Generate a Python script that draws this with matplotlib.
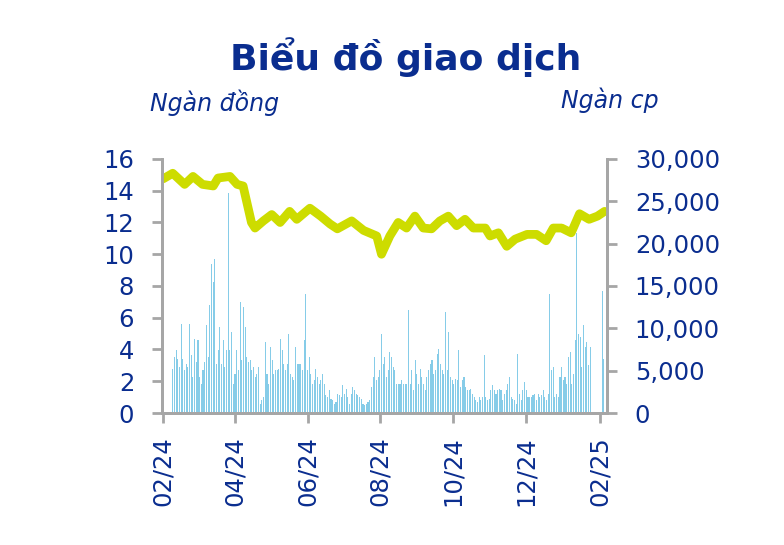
import matplotlib
matplotlib.use('Agg')
import matplotlib.pyplot as plt
import matplotlib.dates as mdates
import matplotlib.ticker as mticker
import numpy as np
import pandas as pd

# price (ngan dong)
price_dates = ['2024-02-01', '2024-02-09', '2024-02-19', '2024-02-26', '2024-03-05',
               '2024-03-14', '2024-03-18', '2024-03-28', '2024-04-03', '2024-04-08',
               '2024-04-15', '2024-04-18', '2024-04-25', '2024-05-02', '2024-05-09',
               '2024-05-17', '2024-05-23', '2024-06-03', '2024-06-12', '2024-06-20',
               '2024-06-26', '2024-07-08', '2024-07-18', '2024-07-29', '2024-08-02',
               '2024-08-09', '2024-08-16', '2024-08-23', '2024-08-30', '2024-09-06',
               '2024-09-13', '2024-09-20', '2024-09-27', '2024-10-04', '2024-10-11',
               '2024-10-18', '2024-10-28', '2024-11-01', '2024-11-08', '2024-11-15',
               '2024-11-22', '2024-12-02', '2024-12-10', '2024-12-18', '2024-12-24',
               '2024-12-31', '2025-01-08', '2025-01-15', '2025-01-23', '2025-01-30',
               '2025-02-05']
price = [14.75, 15.1, 14.4, 14.9, 14.4,
         14.3, 14.8, 14.9, 14.4, 14.3,
         12.0, 11.65, 12.1, 12.5, 12.0,
         12.7, 12.2, 12.9, 12.4, 11.9,
         11.6, 12.1, 11.5, 11.15, 10.0,
         11.15, 12.0, 11.65, 12.4, 11.65,
         11.6, 12.1, 12.4, 11.8, 12.2,
         11.65, 11.65, 11.15, 11.35, 10.5,
         10.95, 11.25, 11.25, 10.85, 11.65,
         11.65, 11.35, 12.55, 12.2, 12.4,
         12.7]

# volume (ngan cp), trading sessions before Tet 2025
vol_start = '2024-02-09'
vol_end = '2025-01-24'
volume = [5240, 6620, 7410, 6420, 5440, 10560, 6420, 5040, 5830, 5440,
          10560, 6820, 4260, 8790, 6030, 8590, 4260, 3470, 5040, 6030,
          10360, 6620, 12730, 17650, 15480, 18240, 5830, 7410, 10170, 5830,
          8590, 5440, 7410, 25930, 7410, 9570, 3470, 4650, 7410, 5040,
          13120, 6230, 12530, 10170, 6620, 6030, 6230, 5040, 5440, 4260, 4650, 5440,
          1100, 1500, 1890,
          8390, 4650, 3470, 7800, 6230, 4650, 5040, 5040, 5240, 8790, 7410, 5830,
          5040, 5830, 9380, 4650, 4260, 3860, 7800, 5830, 5830, 5830, 5040, 8590,
          14110, 5040, 6620, 4650, 3470, 3860, 5240, 4260, 3470, 3860,
          4650, 3470, 2090, 1890, 2680, 1690, 1500, 1100, 1300, 2290, 2090,
          1890, 3270, 2290, 2880, 1890, 1100, 2290, 3070, 2680, 2290, 2090,
          1890, 1690, 1100, 910, 1100, 1300, 1500, 3070, 4260, 6620, 3860,
          4260, 5040, 9380, 5830, 6620, 4260, 5040, 7210, 6620, 5440,
          5040, 3470, 3470, 3470, 3860, 3470, 3470, 3470, 12140, 3470,
          5040, 2680, 6230, 4650, 3470, 5240, 4260, 3470, 2680, 4260,
          5040, 5830, 6230, 4650, 5040, 7010, 7600, 5830, 5040, 4650,
          11940, 5040, 9570, 4260, 3860, 3470, 4060, 3860, 7410, 3070,
          3860, 4260, 3070, 2680, 2680, 2880, 2290, 1890, 1500, 1300,
          1890, 1500, 1890, 6820, 1890, 1500, 1690, 2680, 3270, 2680,
          2290, 2680, 2880, 2680, 1500, 2290, 2680, 3470, 4260, 1890,
          1690, 1500, 1100, 7010, 2290, 1500, 2680, 3660, 2680, 1890,
          1890, 1890, 2090, 2290, 1500, 2290, 1890, 2090, 2680, 1890,
          1500, 2290, 14110, 5040, 5440, 1890, 2290, 1890, 4260, 5440,
          3860, 4260, 3470, 6620, 7210, 3470, 4650, 8590, 21200, 9380,
          8980, 5440, 10360, 7800, 8390, 5630, 7800]
# sessions after Tet 2025
vol2_dates = ['2025-02-03', '2025-02-04']
volume2 = [14400, 6400]

xtick_dates = ['2024-02-01', '2024-04-01', '2024-06-01', '2024-08-01',
               '2024-10-01', '2024-12-01', '2025-02-01']

navy = '#0a2d8f'
grey = '#a6a6a6'
lime = '#cddc00'
bar_c = '#86cce8'

fig = plt.figure(figsize=(7.84, 5.45), dpi=100)
ax = fig.add_axes([0.2066, 0.2422, 0.5676, 0.4661])
ax2 = ax.twinx()

vd = pd.date_range(vol_start, vol_end, periods=len(volume))
ax2.bar(vd, volume, width=0.9, color=bar_c, linewidth=0)
ax2.bar(pd.to_datetime(vol2_dates), volume2, width=0.9, color=bar_c, linewidth=0)

ax.plot(pd.to_datetime(price_dates), price, color=lime, lw=6.3,
        solid_capstyle='round', solid_joinstyle='round')

ax.set_zorder(ax2.get_zorder() + 1)
ax.patch.set_visible(False)

ax.set_ylim(0, 16)
ax2.set_ylim(0, 30000)
ax.set_xlim(pd.Timestamp('2024-01-31'), pd.Timestamp('2025-02-07'))
ax.set_yticks(np.arange(0, 17, 2))
ax2.set_yticks(np.arange(0, 30001, 5000))
ax2.yaxis.set_major_formatter(mticker.FuncFormatter(lambda v, p: '{:,.0f}'.format(v)))
ax.set_xticks(pd.to_datetime(xtick_dates))
ax.xaxis.set_major_formatter(mdates.DateFormatter('%m/%y'))

for a in (ax, ax2):
    a.spines['top'].set_visible(False)
    for s in ('left', 'right', 'bottom'):
        a.spines[s].set_color(grey)
        a.spines[s].set_linewidth(2)
    a.tick_params(colors=grey, labelcolor=navy, labelsize=17.5, width=2, length=7, pad=13)
ax.tick_params(axis='x', labelrotation=90, pad=10)

fig.text(0.517, 0.895, 'Biểu đồ giao dịch', ha='center', va='center',
         fontsize=26, fontweight='bold', color=navy)
fig.text(0.274, 0.812, 'Ngàn đồng', ha='center', va='center',
         fontsize=17, style='italic', color=navy)
fig.text(0.778, 0.816, 'Ngàn cp', ha='center', va='center',
         fontsize=17, style='italic', color=navy)

fig.savefig('out.png', dpi=100)
